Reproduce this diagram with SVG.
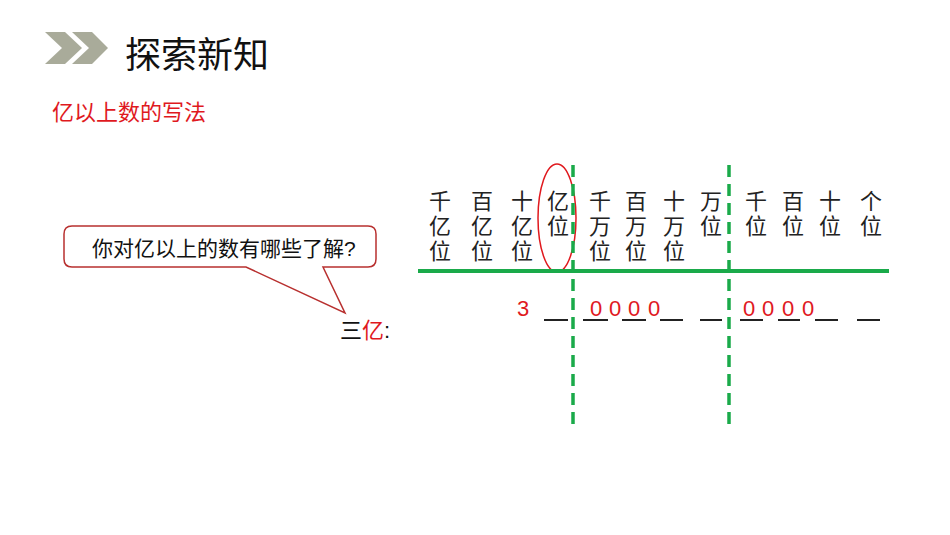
<svg xmlns="http://www.w3.org/2000/svg" width="950" height="535" viewBox="0 0 950 535">
<style>
text{font-family:"Liberation Sans","Noto Sans CJK SC",sans-serif}
.c{font-size:22px;fill:#222;text-anchor:middle}
.r{fill:#e0191e}
.b{stroke:#222;stroke-width:2}
.z{font-size:22px;fill:#e0191e;text-anchor:middle}
.g{stroke:#1aaa4a;stroke-width:3.5;stroke-dasharray:12,7}
</style>
<rect width="950" height="535" fill="#fff"/>
<g id="header">
<polygon points="45,32 65,32 82,48 65,64 45,64 62,48" fill="#a9ab9a"/>
<polygon points="72,32 92,32 108,48 92,64 72,64 89,48" fill="#a9ab9a"/>
<text x="125" y="68" font-size="36" fill="#111">探索新知</text>
<text x="52" y="120" font-size="22" class="r">亿以上数的写法</text>
</g>
<g id="callout">
<path d="M72,226 H368 Q376,226 376,234 V259 Q376,267 368,267 H323 L345,313 L246,267 H72 Q64,267 64,259 V234 Q64,226 72,226 Z" fill="#fff" stroke="#b8302f" stroke-width="1.5"/>
<text x="92" y="256" font-size="21" fill="#111">你对亿以上的数有哪些了解?</text>
</g>
<g id="label">
<text x="340" y="338" font-size="22" fill="#111">三<tspan class="r">亿</tspan>:</text>
</g>
<g id="headers">
<text class="c" x="440" y="209">千</text><text class="c" x="440" y="234">亿</text><text class="c" x="440" y="259">位</text>
<text class="c" x="482" y="209">百</text><text class="c" x="482" y="234">亿</text><text class="c" x="482" y="259">位</text>
<text class="c" x="522" y="209">十</text><text class="c" x="522" y="234">亿</text><text class="c" x="522" y="259">位</text>
<text class="c" x="558" y="209">亿</text><text class="c" x="558" y="234">位</text>
<text class="c" x="600" y="209">千</text><text class="c" x="600" y="234">万</text><text class="c" x="600" y="259">位</text>
<text class="c" x="636" y="209">百</text><text class="c" x="636" y="234">万</text><text class="c" x="636" y="259">位</text>
<text class="c" x="674" y="209">十</text><text class="c" x="674" y="234">万</text><text class="c" x="674" y="259">位</text>
<text class="c" x="711" y="209">万</text><text class="c" x="711" y="234">位</text>
<text class="c" x="756" y="209">千</text><text class="c" x="756" y="234">位</text>
<text class="c" x="793" y="209">百</text><text class="c" x="793" y="234">位</text>
<text class="c" x="830" y="209">十</text><text class="c" x="830" y="234">位</text>
<text class="c" x="871" y="209">个</text><text class="c" x="871" y="234">位</text>
<ellipse cx="557" cy="218" rx="19" ry="54" fill="none" stroke="#e0191e" stroke-width="1.5"/>
</g>
<g id="connectors">
<line x1="418" y1="271" x2="889" y2="271" stroke="#1aaa4a" stroke-width="4"/>
<line class="g" x1="573" y1="165" x2="573" y2="430"/>
<line class="g" x1="729" y1="165" x2="729" y2="430"/>
</g>
<g id="digits">
<text x="523" y="316" font-size="22" class="r" text-anchor="middle">3</text>
<line class="b" x1="544" y1="320" x2="568" y2="320"/>
<line class="b" x1="583" y1="320" x2="608" y2="320"/>
<line class="b" x1="622" y1="320" x2="646" y2="320"/>
<line class="b" x1="660" y1="320" x2="683" y2="320"/>
<line class="b" x1="700" y1="320" x2="722" y2="320"/>
<line class="b" x1="740" y1="320" x2="763" y2="320"/>
<line class="b" x1="778" y1="320" x2="800" y2="320"/>
<line class="b" x1="815" y1="320" x2="838" y2="320"/>
<line class="b" x1="857" y1="320" x2="880" y2="320"/>
<text class="z" x="596" y="316">0</text><text class="z" x="615" y="316">0</text><text class="z" x="634" y="316">0</text><text class="z" x="654" y="316">0</text>
<text class="z" x="749" y="316">0</text><text class="z" x="768" y="316">0</text><text class="z" x="788" y="316">0</text><text class="z" x="808" y="316">0</text>
</g>
</svg>
